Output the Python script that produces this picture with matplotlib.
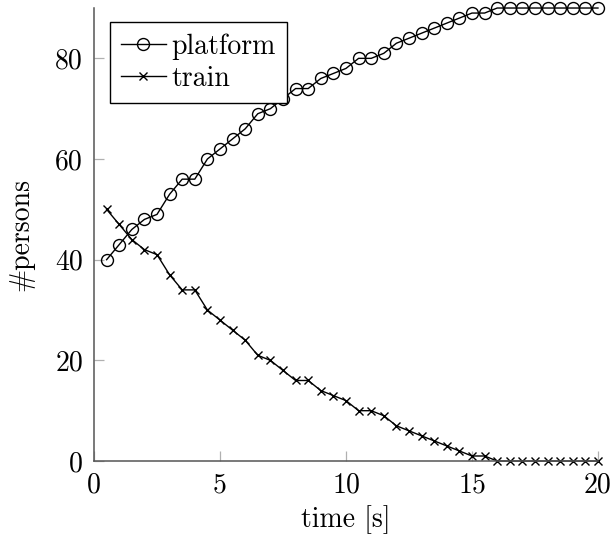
import matplotlib
matplotlib.use("Agg")
import matplotlib.pyplot as plt

# time steps [s] and head counts on the platform / still on the train
time_s = [0.5, 1.0, 1.5, 2.0, 2.5, 3.0, 3.5, 4.0, 4.5, 5.0,
          5.5, 6.0, 6.5, 7.0, 7.5, 8.0, 8.5, 9.0, 9.5, 10.0,
          10.5, 11.0, 11.5, 12.0, 12.5, 13.0, 13.5, 14.0, 14.5, 15.0,
          15.5, 16.0, 16.5, 17.0, 17.5, 18.0, 18.5, 19.0, 19.5, 20.0]
platform = [40, 43, 46, 48, 49, 53, 56, 56, 60, 62,
            64, 66, 69, 70, 72, 74, 74, 76, 77, 78,
            80, 80, 81, 83, 84, 85, 86, 87, 88, 89,
            89, 90, 90, 90, 90, 90, 90, 90, 90, 90]
train = [50, 47, 44, 42, 41, 37, 34, 34, 30, 28,
         26, 24, 21, 20, 18, 16, 16, 14, 13, 12,
         10, 10, 9, 7, 6, 5, 4, 3, 2, 1,
         1, 0, 0, 0, 0, 0, 0, 0, 0, 0]

x_ticks = [0, 5, 10, 15, 20]
y_ticks = [0, 20, 40, 60, 80]

plt.rcParams["font.family"] = ["cmr10", "DejaVu Serif"]
plt.rcParams["mathtext.fontset"] = "cm"
plt.rcParams["axes.unicode_minus"] = False
FS = 20

fig = plt.figure(figsize=(6.14, 5.42), dpi=100)
ax = fig.add_axes([0.1531, 0.1494, 0.8208, 0.8358])

# markers sit on the axis limits, so don't clip them
ax.plot(time_s, platform, color="black", lw=1.0, marker="o", ms=8.6,
        mfc="none", mec="black", mew=1.0, label="platform", clip_on=False)
ax.plot(time_s, train, color="black", lw=1.0, marker="x", ms=6.3,
        mec="black", mew=1.0, label="train", clip_on=False)

ax.set_xlim(0, 20)
ax.set_ylim(0, 90)
ax.set_xticks(x_ticks)
ax.set_yticks(y_ticks)
ax.tick_params(direction="in", length=7.5, width=0.9, color="#b0b0b0",
               labelsize=FS, pad=8)

for side in ("top", "right"):
    ax.spines[side].set_visible(False)
for side in ("left", "bottom"):
    ax.spines[side].set_color("#555555")
    ax.spines[side].set_linewidth(1.1)

ax.set_xlabel("time [s]", fontsize=FS, labelpad=5)
ax.set_ylabel("#persons", fontsize=FS, labelpad=15)

leg = ax.legend(loc="upper left", bbox_to_anchor=(0.032, 0.969),
                borderaxespad=0, fontsize=FS, frameon=True, fancybox=False,
                framealpha=1, edgecolor="black", handlelength=1.6,
                handletextpad=0.2, borderpad=0.4, labelspacing=0.2)
leg.get_frame().set_linewidth(1.0)
leg.set_zorder(5)

fig.savefig("out.png", dpi=100)
